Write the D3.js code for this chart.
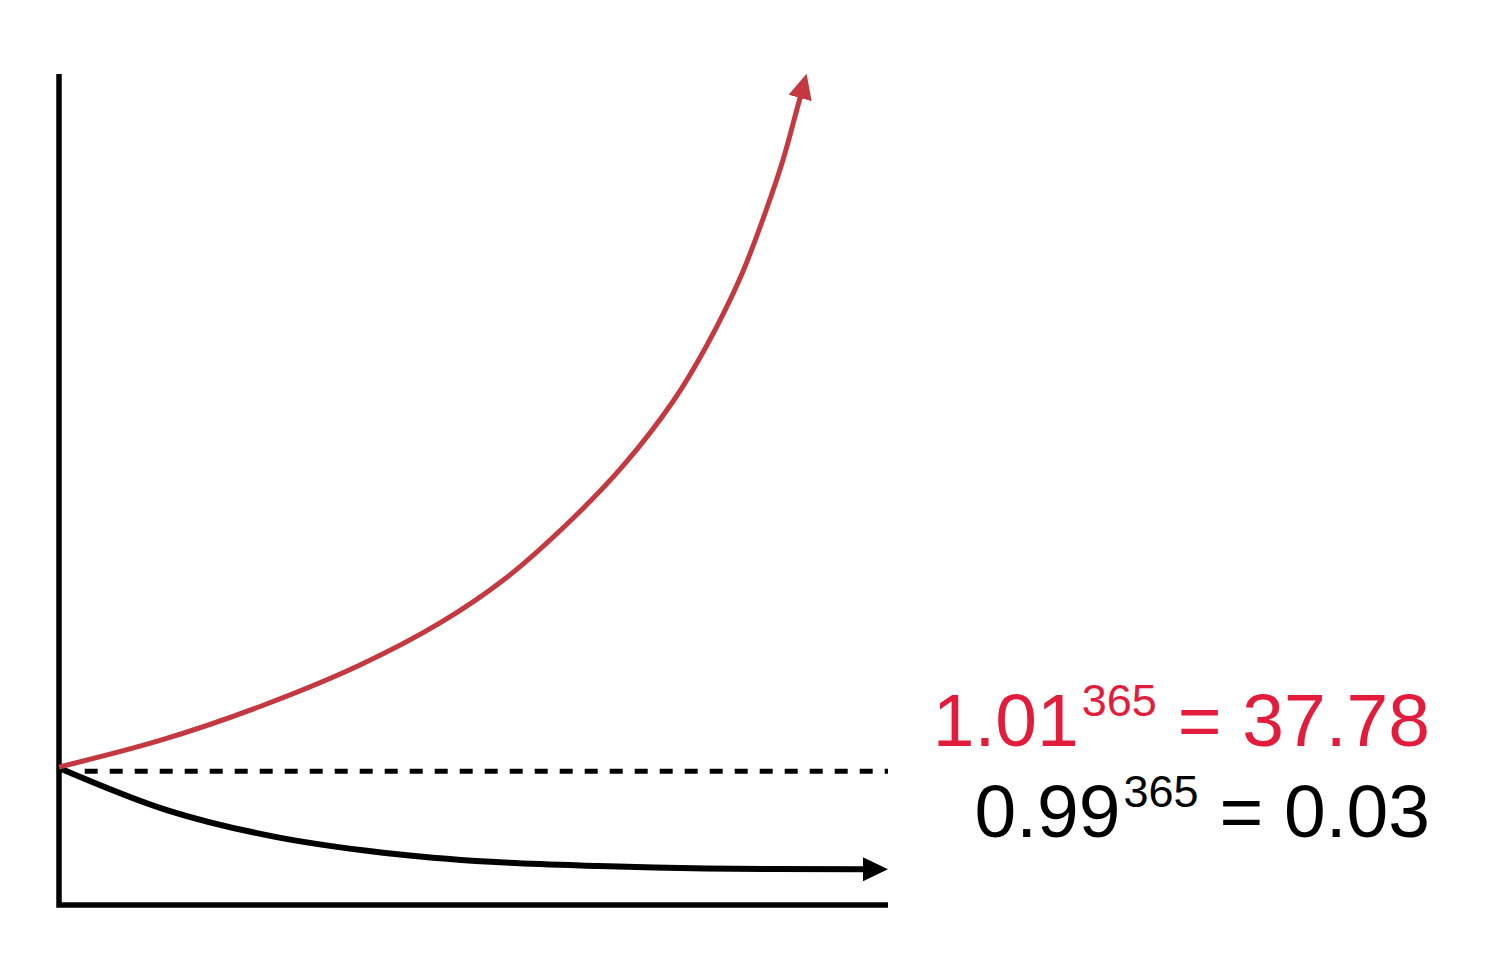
<!DOCTYPE html>
<html>
<head>
<meta charset="utf-8">
<script src="https://cdn.jsdelivr.net/npm/d3@7"></script>
<style>
  html, body { margin: 0; padding: 0; background: #fff; }
  svg { display: block; }
</style>
</head>
<body>
<svg id="chart" width="1488" height="965"></svg>
<script>
// growth curve, 1% better every day (x: share of year, y: relative level)
const growthX = [0, 12.18, 24.25, 36.31, 45.96, 54.0, 62.04, 68.03, 74.1, 78.17, 82.27, 85.22, 87.33, 88.96, 89.42];
const growthY = [16.6, 19.8, 23.89, 28.88, 33.94, 39.41, 46.57, 52.83, 60.65, 67.39, 75.69, 83.39, 89.65, 95.55, 97.23];

// decline curve, 1% worse every day
const declineX = [0, 13.1, 26.1, 39.1, 52.1, 65.1, 78.0, 97.1];
const declineY = [16.5, 11.4, 8.2, 6.3, 5.2, 4.7, 4.4, 4.3];

// baseline (no change)
const baselineX = [3.1, 100];
const baselineY = [16.1, 16.1];

const labels = [
  { base: "1.01", exp: "365", result: "37.78", color: "#e31c3c" },
  { base: "0.99", exp: "365", result: "0.03", color: "#000" }
];

const svg = d3.select("#chart");

const x = d3.scaleLinear().domain([0, 100]).range([59, 888]);
const y = d3.scaleLinear().domain([0, 100]).range([905, 74]);

const zip = (xs, ys) => xs.map((v, i) => [v, ys[i]]);

const line = d3.line()
  .curve(d3.curveCatmullRom.alpha(0.5))
  .x(d => x(d[0]))
  .y(d => y(d[1]));

/*
 * arrow heads
 */
const defs = svg.append("defs");

defs.append("marker")
  .attr("id", "arrow-red")
  .attr("markerUnits", "userSpaceOnUse")
  .attr("viewBox", "0 -12 25 24")
  .attr("refX", 1)
  .attr("refY", 0)
  .attr("markerWidth", 25)
  .attr("markerHeight", 24)
  .attr("orient", "auto")
  .append("path")
  .attr("d", "M0,-12L25,0L0,12Z")
  .attr("fill", "#c4383f");

defs.append("marker")
  .attr("id", "arrow-black")
  .attr("markerUnits", "userSpaceOnUse")
  .attr("viewBox", "0 -12 25 24")
  .attr("refX", 1)
  .attr("refY", 0)
  .attr("markerWidth", 25)
  .attr("markerHeight", 24)
  .attr("orient", "auto")
  .append("path")
  .attr("d", "M0,-12L25,0L0,12Z")
  .attr("fill", "#000");

/*
 * axes
 */
svg.append("path")
  .attr("d", `M${x(0)},${y(100)}V${y(0)}H${x(100)}`)
  .attr("fill", "none")
  .attr("stroke", "#000")
  .attr("stroke-width", 5.5);

/*
 * baseline
 */
svg.append("path")
  .attr("d", d3.line().x(d => x(d[0])).y(d => y(d[1]))(zip(baselineX, baselineY)))
  .attr("fill", "none")
  .attr("stroke", "#000")
  .attr("stroke-width", 5)
  .attr("stroke-dasharray", "13,12");

/*
 * curves
 */
svg.append("path")
  .attr("d", line(zip(declineX, declineY)))
  .attr("fill", "none")
  .attr("stroke", "#000")
  .attr("stroke-width", 6)
  .attr("marker-end", "url(#arrow-black)");

svg.append("path")
  .attr("d", line(zip(growthX, growthY)))
  .attr("fill", "none")
  .attr("stroke", "#c4383f")
  .attr("stroke-width", 5)
  .attr("marker-end", "url(#arrow-red)");

/*
 * formulas
 */
const baselines = [746, 837];

labels.forEach((l, i) => {
  const t = svg.append("text")
    .attr("x", 1430)
    .attr("y", baselines[i])
    .attr("text-anchor", "end")
    .attr("font-family", "'Liberation Sans', Arial, Helvetica, sans-serif")
    .attr("font-size", 75)
    .attr("fill", l.color);

  t.append("tspan").text(l.base);
  t.append("tspan")
    .attr("font-size", 45)
    .attr("dy", -30)
    .attr("dx", 3)
    .text(l.exp);
  t.append("tspan")
    .attr("dy", 30)
    .text(" = " + l.result);
});
</script>
</body>
</html>
